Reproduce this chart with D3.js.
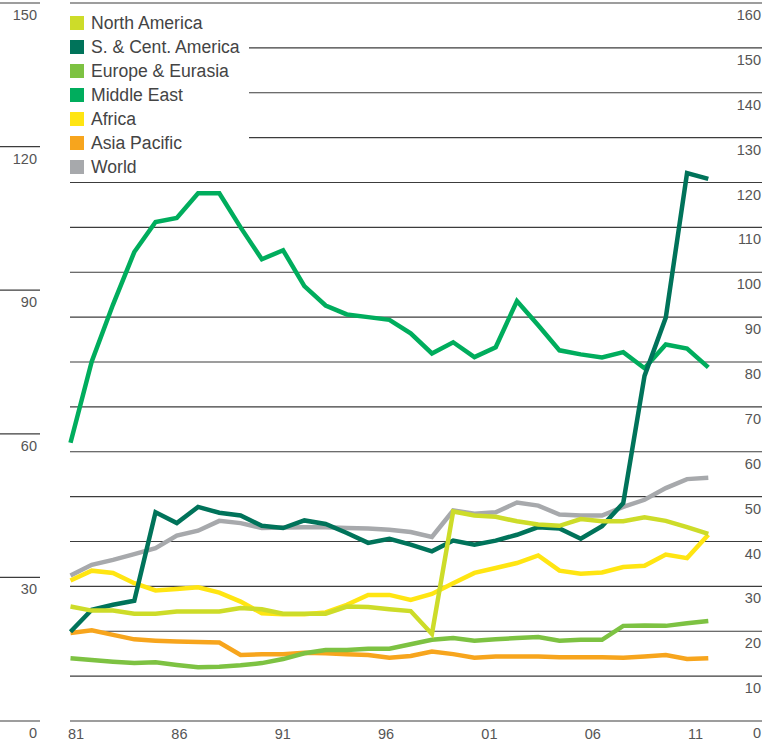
<!DOCTYPE html>
<html>
<head>
<meta charset="utf-8">
<script src="https://cdn.jsdelivr.net/npm/d3@7"></script>
<style>
  html, body { margin: 0; padding: 0; background: #fff; }
  svg { display: block; }
  text { font-family: "Liberation Sans", Arial, sans-serif; }
</style>
</head>
<body>
<svg id="chart" width="779" height="744"></svg>
<script>
// ---- Data ----
const years = d3.range(1981, 2012);
const seriesNames = ["North America", "S. & Cent. America", "Europe & Eurasia", "Middle East", "Africa", "Asia Pacific", "World"];
const seriesColors = ["#cddc29", "#00735a", "#7dc242", "#00ad5d", "#ffe512", "#f7a51d", "#a7a9ac"];

const northAmerica = [25.5,24.6,24.6,23.9,23.9,24.4,24.4,24.4,25.2,24.9,23.9,23.9,23.9,25.5,25.4,24.9,24.5,19.4,46.7,45.8,45.5,44.5,43.8,43.5,45.0,44.5,44.5,45.4,44.6,43.2,41.7];
const scAmerica = [19.9,24.8,25.9,26.8,46.5,44.1,47.7,46.4,45.8,43.5,43.0,44.7,43.9,41.9,39.7,40.6,39.3,37.8,40.2,39.3,40.2,41.5,43.2,42.9,40.6,43.4,48.6,76.9,89.9,122.1,120.8];
const europe = [14.0,13.6,13.2,12.9,13.1,12.5,12.0,12.1,12.4,12.9,13.8,15.1,15.8,15.8,16.1,16.1,17.1,18.1,18.5,17.9,18.2,18.5,18.7,17.9,18.1,18.1,21.2,21.3,21.2,21.8,22.3];
const middleEast = [62.0,80.1,92.8,104.5,111.2,112.1,117.6,117.6,110.0,102.9,104.9,96.9,92.6,90.6,90.0,89.4,86.4,81.9,84.4,81.1,83.3,93.6,88.2,82.6,81.7,81.0,82.2,78.6,83.9,83.0,78.8];
const africa = [31.3,33.5,33.0,30.7,29.1,29.4,29.8,28.6,26.6,24.0,23.8,23.8,24.2,25.9,28.1,28.1,27.0,28.3,30.7,33.0,34.1,35.2,36.9,33.5,32.8,33.1,34.3,34.6,37.1,36.3,41.5];
const asiaPacific = [19.6,20.2,19.2,18.2,17.9,17.7,17.6,17.5,14.7,14.9,14.9,15.2,15.1,14.9,14.7,14.1,14.5,15.5,14.9,14.1,14.4,14.4,14.4,14.2,14.2,14.2,14.1,14.4,14.7,13.8,14.0];
const world = [32.4,34.8,35.9,37.2,38.5,41.3,42.4,44.6,44.1,43.0,43.1,43.2,43.2,43.0,42.9,42.6,42.1,41.0,46.9,46.2,46.5,48.7,48.0,46.0,45.8,45.8,47.7,49.3,51.9,53.9,54.2];

const seriesValues = [northAmerica, scAmerica, europe, middleEast, africa, asiaPacific, world];

const rightTicks = d3.range(0, 161, 10);
const leftTicks = [0, 30, 60, 90, 120, 150];
const xTickYears = [1981, 1986, 1991, 1996, 2001, 2006, 2011];
const xTickLabels = ["81", "86", "91", "96", "01", "06", "11"];

// ---- Layout ----
const svg = d3.select("#chart");
const yTop = 3, yBottom = 721;
const plotLeft = 70, plotRight = 762;

const x = d3.scaleLinear().domain([1981, 2011]).range([70.5, 708.3]);
const xLabel = d3.scaleLinear().domain([1981, 2011]).range([68, 688]);
const yR = d3.scaleLinear().domain([0, 160]).range([yBottom, yTop]);
const yL = d3.scaleLinear().domain([0, 150]).range([yBottom, yTop]);

// Right-axis gridlines
const grid = svg.append("g");
grid.selectAll("line").data(rightTicks).join("line")
  .attr("x1", plotLeft).attr("x2", plotRight)
  .attr("y1", d => yR(d)).attr("y2", d => yR(d))
  .attr("stroke", "#3c3c3c").attr("stroke-width", 1.2);

// Right-axis labels
svg.append("g").selectAll("text").data(rightTicks).join("text")
  .attr("x", 761).attr("y", d => yR(d) + 17)
  .attr("text-anchor", "end")
  .attr("font-size", 14.5).attr("fill", "#555")
  .text(d => d);

// Left axis ticks & labels
const left = svg.append("g");
left.selectAll("line").data(leftTicks).join("line")
  .attr("x1", 0).attr("x2", 40)
  .attr("y1", d => yL(d)).attr("y2", d => yL(d))
  .attr("stroke", "#3c3c3c").attr("stroke-width", 1.2);
left.selectAll("text").data(leftTicks).join("text")
  .attr("x", 37).attr("y", d => yL(d) + 17)
  .attr("text-anchor", "end")
  .attr("font-size", 14.5).attr("fill", "#555")
  .text(d => d);

// X labels
svg.append("g").selectAll("text").data(xTickYears).join("text")
  .attr("x", d => xLabel(d)).attr("y", 739)
  .attr("text-anchor", "start")
  .attr("font-size", 14.5).attr("fill", "#555")
  .text((d, i) => xTickLabels[i]);

// Legend background (covers gridlines)
const legendX = 70, legendY0 = 23, legendStep = 24;
svg.append("rect")
  .attr("x", 64).attr("y", 8).attr("width", 185).attr("height", 170)
  .attr("fill", "#fff");

// Lines (drawn in reverse legend order so North America is on top)
const line = d3.line()
  .x((d, i) => x(years[i]))
  .y(d => yR(d))
  .curve(d3.curveLinear);

const order = d3.range(seriesNames.length).reverse();
svg.append("g").selectAll("path").data(order).join("path")
  .attr("d", k => line(seriesValues[k]))
  .attr("fill", "none")
  .attr("stroke", k => seriesColors[k])
  .attr("stroke-width", 4.5)
  .attr("stroke-linejoin", "miter")
  .attr("stroke-linecap", "butt");

// Legend
const leg = svg.append("g");
seriesNames.forEach((name, i) => {
  const cy = legendY0 + i * legendStep;
  leg.append("rect")
    .attr("x", legendX).attr("y", cy - 7)
    .attr("width", 14).attr("height", 14)
    .attr("fill", seriesColors[i]);
  leg.append("text")
    .attr("x", 91).attr("y", cy + 6)
    .attr("font-size", 17.6).attr("fill", "#444")
    .text(name);
});
</script>
</body>
</html>
